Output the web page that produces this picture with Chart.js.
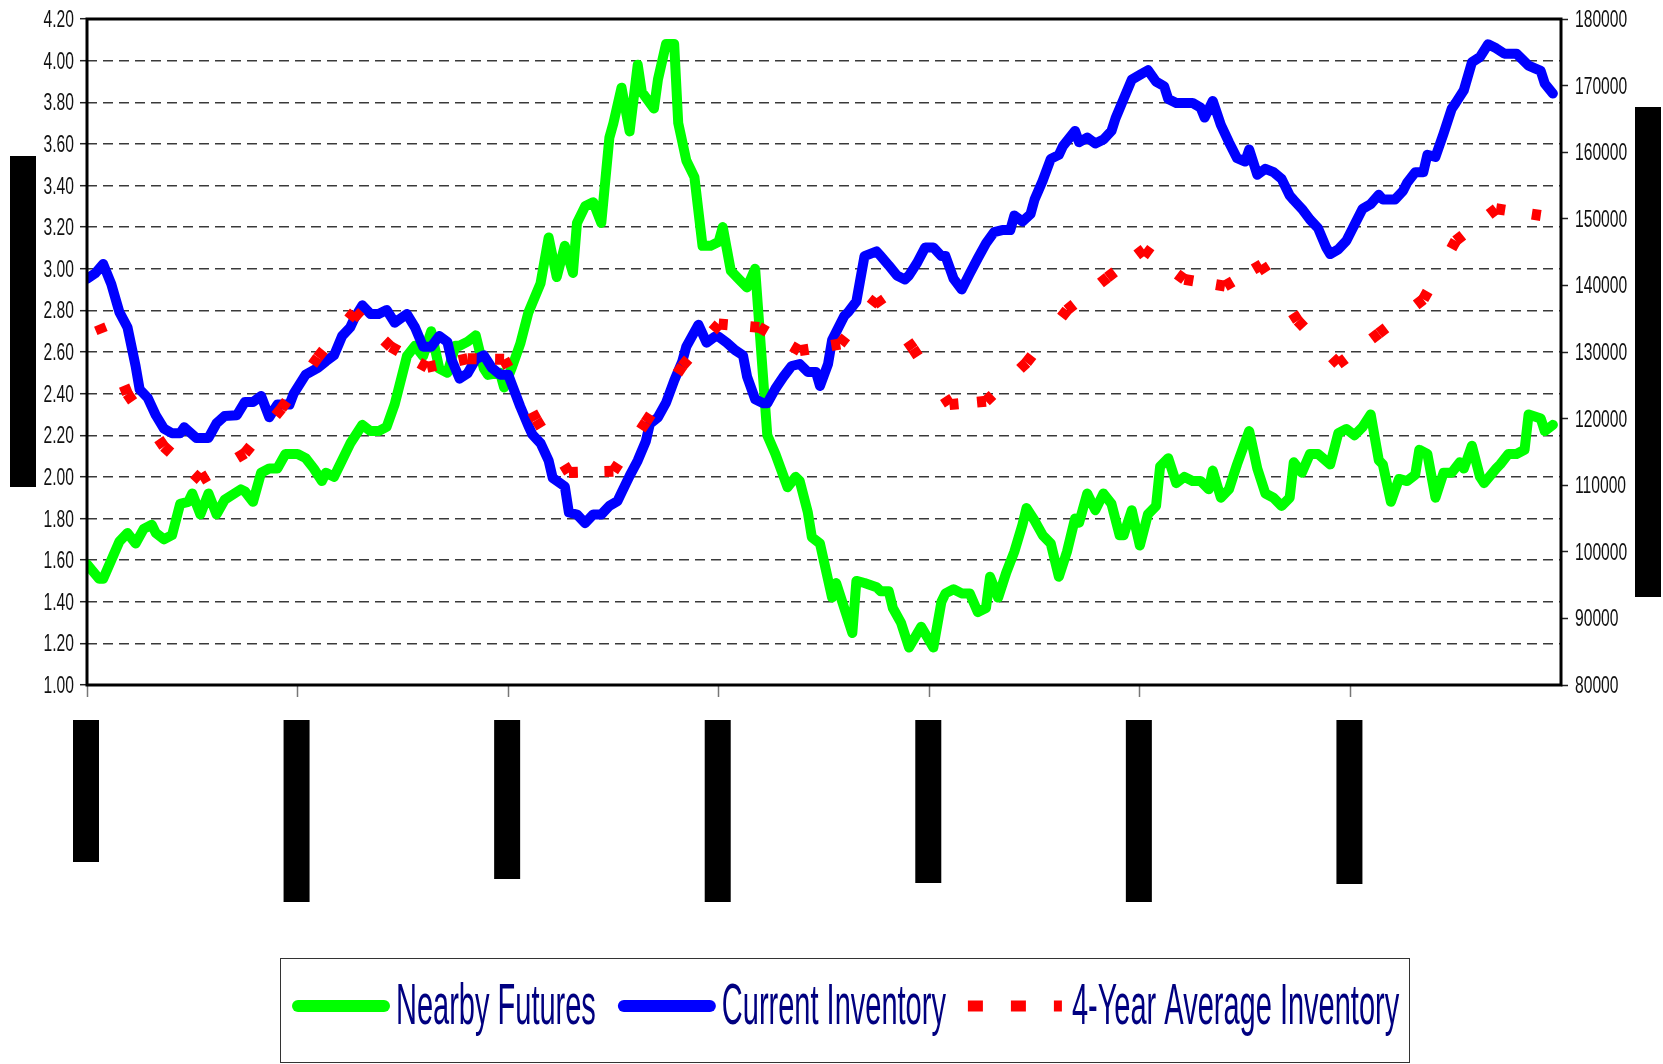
<!DOCTYPE html>
<html>
<head>
<meta charset="utf-8">
<script src="https://cdn.jsdelivr.net/npm/chart.js@4.4.1/dist/chart.umd.min.js"></script>
<style>
  html, body { margin: 0; padding: 0; background: #fff; }
  canvas { display: block; }
</style>
</head>
<body>
<canvas id="chart" width="1663" height="1064"></canvas>
<script>
// x is weeks since the first tick, 52 weeks to a year
const yearTicks = [0, 52, 104, 156, 208, 260, 312];

const futuresWeeks = [
  0, 3, 4, 8, 10, 12, 14, 16, 17, 19,
  21, 23, 25, 26, 28, 30, 32, 34, 38, 39,
  41, 43, 45, 47, 49, 52, 54, 56, 58, 59,
  61, 62, 65, 68, 70, 72, 74, 76, 79, 81,
  83, 85, 87, 89, 91, 92, 94, 96, 98, 99,
  102, 103, 105, 107, 109, 112, 114, 116, 118, 120,
  121, 123, 125, 127, 129, 130, 132, 134, 136, 137,
  140, 141, 143, 145, 146, 148, 150, 152, 154, 156,
  157, 159, 161, 163, 165, 168, 170, 173, 175, 176,
  178, 179, 181, 184, 185, 187, 189, 190, 192, 195,
  196, 198, 199, 201, 203, 206, 209, 211, 212, 214,
  216, 218, 220, 222, 223, 225, 227, 229, 231, 232,
  234, 236, 238, 240, 242, 244, 245, 247, 249, 251,
  253, 255, 256, 258, 260, 262, 264, 265, 267, 269,
  271, 273, 275, 277, 278, 280, 282, 284, 287, 289,
  291, 293, 295, 297, 298, 300, 302, 304, 307, 309,
  311, 313, 315, 317, 319, 320, 322, 324, 326, 328,
  329, 331, 333, 335, 337, 339, 340, 342, 344, 345,
  348, 349, 351, 353, 355, 356, 359, 360, 362
];
const futuresPrice = [
  1.58, 1.51, 1.51, 1.69, 1.73, 1.68, 1.75, 1.77, 1.73, 1.70,
  1.72, 1.87, 1.88, 1.92, 1.82, 1.92, 1.82, 1.89, 1.94, 1.93,
  1.88, 2.02, 2.04, 2.04, 2.11, 2.11, 2.09, 2.04, 1.98, 2.02,
  2.00, 2.04, 2.16, 2.25, 2.22, 2.22, 2.24, 2.35, 2.58, 2.63,
  2.58, 2.70, 2.52, 2.50, 2.63, 2.63, 2.65, 2.68, 2.52, 2.49,
  2.50, 2.43, 2.53, 2.64, 2.79, 2.93, 3.15, 2.96, 3.11, 2.98,
  3.22, 3.30, 3.32, 3.22, 3.63, 3.70, 3.87, 3.66, 3.98, 3.85,
  3.77, 3.91, 4.08, 4.08, 3.70, 3.52, 3.44, 3.11, 3.11, 3.13,
  3.20, 2.99, 2.95, 2.91, 3.00, 2.20, 2.11, 1.95, 2.00, 1.98,
  1.83, 1.71, 1.68, 1.42, 1.49, 1.37, 1.25, 1.50, 1.49, 1.47,
  1.45, 1.45, 1.37, 1.30, 1.18, 1.28, 1.18, 1.40, 1.44, 1.46,
  1.44, 1.44, 1.35, 1.37, 1.52, 1.42, 1.54, 1.64, 1.77, 1.85,
  1.79, 1.72, 1.68, 1.52, 1.64, 1.80, 1.78, 1.92, 1.84, 1.92,
  1.87, 1.72, 1.72, 1.84, 1.67, 1.82, 1.86, 2.05, 2.09, 1.97,
  2.00, 1.98, 1.98, 1.94, 2.03, 1.90, 1.94, 2.06, 2.22, 2.04,
  1.92, 1.90, 1.86, 1.90, 2.07, 2.02, 2.11, 2.11, 2.06, 2.21,
  2.23, 2.20, 2.24, 2.30, 2.08, 2.06, 1.88, 1.99, 1.98, 2.01,
  2.13, 2.11, 1.90, 2.02, 2.02, 2.07, 2.04, 2.15, 2.00, 1.97,
  2.04, 2.06, 2.11, 2.11, 2.13, 2.30, 2.28, 2.22, 2.25
];

const inventoryWeeks = [
  0, 2, 4, 6, 8, 10, 12, 13, 15, 17,
  19, 21, 23, 24, 27, 30, 32, 34, 37, 39,
  41, 43, 45, 47, 50, 51, 54, 57, 59, 61,
  63, 65, 66, 68, 70, 72, 74, 76, 79, 81,
  83, 85, 87, 89, 90, 92, 94, 96, 98, 100,
  102, 104, 105, 107, 109, 110, 112, 114, 115, 118,
  119, 121, 123, 125, 127, 129, 131, 132, 134, 136,
  138, 139, 141, 143, 145, 147, 148, 151, 153, 155,
  156, 158, 160, 162, 163, 165, 167, 168, 170, 172,
  174, 176, 178, 180, 181, 183, 184, 187, 188, 190,
  192, 195, 196, 198, 200, 202, 203, 205, 207, 209,
  211, 212, 214, 216, 218, 220, 222, 224, 226, 228,
  229, 231, 233, 234, 236, 238, 240, 241, 244, 245,
  247, 249, 251, 253, 254, 256, 258, 260, 262, 264,
  266, 267, 269, 273, 275, 276, 278, 280, 282, 284,
  286, 287, 289, 291, 293, 295, 297, 298, 300, 302,
  304, 306, 307, 309, 311, 313, 315, 317, 319, 320,
  323, 325, 326, 328, 330, 331, 333, 335, 337, 338,
  340, 342, 344, 346, 348, 350, 353, 355, 356, 359,
  360, 362
];
const inventoryLevel = [
  141000, 141800, 143200, 140200, 136000, 133700, 127900, 124400, 123100, 120500,
  118500, 117800, 117800, 118700, 117100, 117100, 119300, 120400, 120500, 122500,
  122500, 123400, 120200, 122100, 122100, 123700, 126600, 127600, 128600, 129500,
  132400, 133700, 135000, 137000, 135700, 135700, 136300, 134400, 135700, 133700,
  130800, 130800, 132400, 131500, 128900, 126000, 126800, 128900, 129500, 127600,
  126600, 126600, 125000, 121800, 118900, 117600, 116300, 113700, 111100, 109800,
  105900, 105600, 104300, 105600, 105600, 106900, 107600, 108900, 111400, 113700,
  116600, 119200, 120200, 122400, 125700, 128600, 130800, 134100, 131400, 132300,
  132300, 131400, 130300, 129500, 126300, 122900, 122300, 122300, 124500, 126300,
  127900, 128200, 127000, 127000, 124900, 128200, 131800, 135400, 136000, 137600,
  144400, 145100, 144400, 143000, 141500, 140900, 141500, 143400, 145700, 145700,
  144400, 144400, 141000, 139400, 141800, 144100, 146300, 148000, 148300, 148300,
  150500, 149600, 150700, 152900, 155700, 159000, 159600, 160900, 163200, 161500,
  162200, 161300, 161900, 163200, 165100, 168000, 170900, 171600, 172300, 170600,
  169900, 168000, 167400, 167400, 166700, 165200, 167700, 164100, 161500, 159100,
  158600, 160400, 156600, 157500, 157000, 156000, 153500, 152800, 151500, 149900,
  148600, 145700, 144700, 145400, 146700, 149100, 151500, 152200, 153600, 152900,
  152900, 154200, 155400, 157000, 157000, 159600, 159300, 162800, 166500, 167400,
  169300, 173500, 174300, 176200, 175600, 174800, 174800, 173600, 173000, 172200,
  170300, 168800
];

const avgWeeks = [
  3, 10, 19, 28, 39, 48, 57, 66, 75, 84,
  94, 103, 111, 119, 130, 138, 147, 156, 166, 176,
  186, 195, 204, 213, 222, 232, 242, 252, 261, 271,
  281, 290, 299, 309, 319, 330, 338, 348, 359
];
const avgLevel = [
  134100, 123700, 115800, 110800, 114800, 121500, 129200, 136000, 130800, 127700,
  129000, 128900, 119800, 111900, 112100, 119500, 127900, 134200, 133700, 130200,
  131200, 138100, 130500, 122100, 122600, 128400, 136300, 141200, 145400, 140900,
  139900, 143100, 134700, 128200, 132800, 137900, 146700, 151500, 150500
];

const seriesNames = ['Nearby Futures', 'Current Inventory', '4-Year Average Inventory'];

// the x labels and axis titles are blacked out in the source picture
const redactedLabelLength = [142, 182, 159, 182, 163, 182, 164];

function pts(xs, ys) {
  return xs.map((x, i) => ({ x: x, y: ys[i] }));
}

function narrowText(ctx, s, x, y, sx, align) {
  ctx.save();
  ctx.translate(x, y);
  ctx.scale(sx, 1);
  ctx.textAlign = align;
  ctx.fillText(s, 0, 0);
  ctx.restore();
}

const decorations = {
  id: 'decorations',
  afterDraw(chart) {
    const { ctx, chartArea: a, scales } = chart;
    ctx.save();

    // plot frame
    ctx.strokeStyle = '#000';
    ctx.lineWidth = 3;
    ctx.strokeRect(a.left, a.top, a.right - a.left, a.bottom - a.top);

    // axis numbers, squeezed like the original narrow font
    ctx.fillStyle = '#111';
    ctx.font = '23px "Liberation Sans", Arial, sans-serif';
    scales.y.ticks.forEach(t => {
      const py = scales.y.getPixelForValue(t.value);
      narrowText(ctx, t.value.toFixed(2), a.left - 13, py + 8, 0.68, 'right');
    });
    scales.y1.ticks.forEach(t => {
      const py = scales.y1.getPixelForValue(t.value);
      narrowText(ctx, String(Math.round(t.value)), a.right + 14, py + 8, 0.68, 'left');
    });

    // blacked out labels
    ctx.fillStyle = '#000';
    scales.x.ticks.forEach((t, i) => {
      const px = scales.x.getPixelForValue(t.value);
      ctx.fillRect(px - 14, 720, 26, redactedLabelLength[i] || 160);
    });
    ctx.fillRect(10, 156, 26, 331);
    ctx.fillRect(1635, 107, 26, 490);

    // legend
    ctx.strokeStyle = '#333';
    ctx.lineWidth = 1;
    ctx.strokeRect(280.5, 958.5, 1129, 104);
    let x = 292;
    const ly = 1006;
    chart.data.datasets.forEach(d => {
      ctx.beginPath();
      ctx.strokeStyle = d.borderColor;
      if (d.dashedKey) {
        ctx.lineWidth = 11;
        ctx.lineCap = 'butt';
        ctx.setLineDash([15, 28]);
        ctx.moveTo(x, ly);
        ctx.lineTo(x + 94, ly);
      } else {
        ctx.lineWidth = 12;
        ctx.lineCap = 'round';
        ctx.moveTo(x + 6, ly);
        ctx.lineTo(x + 92, ly);
      }
      ctx.stroke();
      ctx.setLineDash([]);
      x += 104;
      ctx.fillStyle = '#000080';
      ctx.font = '58px "Liberation Sans", Arial, sans-serif';
      narrowText(ctx, d.label, x, 1024, 0.5, 'left');
      x += ctx.measureText(d.label).width * 0.5 + 22;
    });

    ctx.restore();
  }
};

new Chart(document.getElementById('chart'), {
  type: 'line',
  data: {
    datasets: [
      {
        label: seriesNames[0],
        data: pts(futuresWeeks, futuresPrice),
        yAxisID: 'y',
        borderColor: '#00ff00',
        borderWidth: 10,
        borderJoinStyle: 'round',
        borderCapStyle: 'round',
        pointRadius: 0,
        order: 3
      },
      {
        label: seriesNames[1],
        data: pts(inventoryWeeks, inventoryLevel),
        yAxisID: 'y1',
        borderColor: '#0000ff',
        borderWidth: 10,
        borderJoinStyle: 'round',
        borderCapStyle: 'round',
        pointRadius: 0,
        order: 2
      },
      {
        label: seriesNames[2],
        data: pts(avgWeeks, avgLevel),
        yAxisID: 'y1',
        borderColor: '#ff0000',
        borderWidth: 11,
        borderCapStyle: 'butt',
        pointRadius: 0,
        dashedKey: true,
        order: 1,
        // one short dash centred on each reading
        segment: {
          borderDash: c => {
            const s = Math.hypot(c.p1.x - c.p0.x, c.p1.y - c.p0.y);
            return s > 18 ? [9, s - 18, 9, s + 20] : [s, s + 20];
          }
        }
      }
    ]
  },
  options: {
    responsive: false,
    animation: false,
    devicePixelRatio: 1,
    layout: { padding: { top: 19, left: 0, right: 0, bottom: 0 } },
    plugins: {
      legend: { display: false },
      tooltip: { enabled: false }
    },
    scales: {
      x: {
        type: 'linear',
        position: 'bottom',
        min: 0,
        max: 364,
        afterBuildTicks: s => { s.ticks = yearTicks.map(v => ({ value: v })); },
        ticks: { display: false },
        grid: { drawOnChartArea: false, drawTicks: true, tickLength: 12, tickColor: '#777', tickWidth: 1.5 },
        border: { display: false },
        afterFit: s => { s.height = 379; }
      },
      y: {
        position: 'left',
        min: 1,
        max: 4.2,
        ticks: { display: false, stepSize: 0.2 },
        grid: { color: '#3a3a3a', lineWidth: 1.4, tickLength: 7, tickColor: '#222', tickWidth: 1.5 },
        border: { display: false, dash: [10, 6] },
        afterFit: s => { s.width = 87; }
      },
      y1: {
        position: 'right',
        min: 80000,
        max: 180000,
        ticks: { display: false, stepSize: 10000 },
        grid: { drawOnChartArea: false, tickLength: 7, tickColor: '#222', tickWidth: 1.5 },
        border: { display: false },
        afterFit: s => { s.width = 102; }
      }
    }
  },
  plugins: [decorations]
});
</script>
</body>
</html>
